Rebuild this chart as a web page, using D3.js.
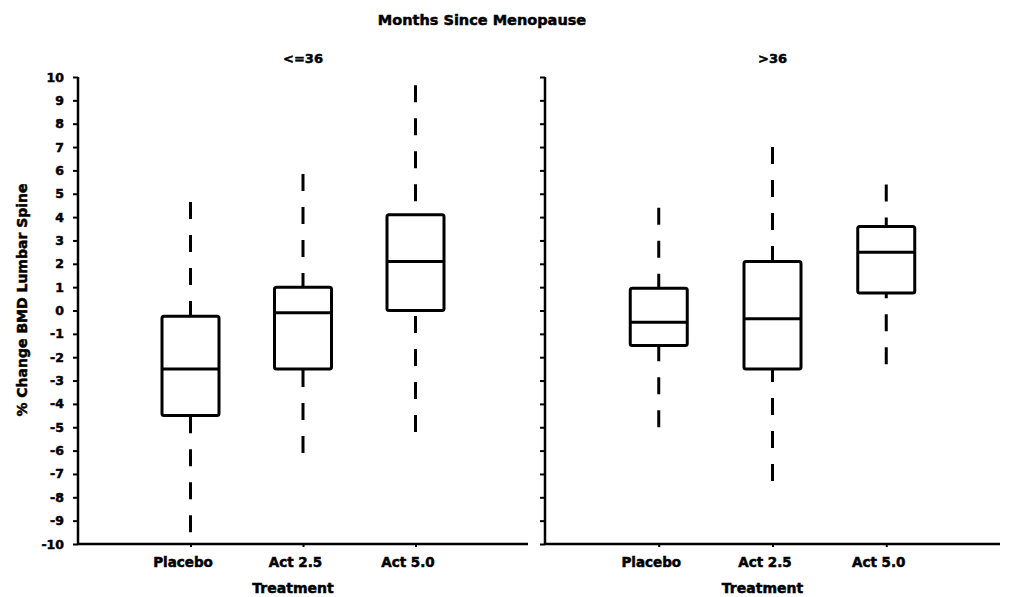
<!DOCTYPE html>
<html>
<head>
<meta charset="utf-8">
<script src="https://cdn.jsdelivr.net/npm/d3@7"></script>
<style>
  body { margin: 0; background: #fff; }
  svg text { font-family: "DejaVu Sans", sans-serif; font-weight: bold; fill: #000; stroke: #000; stroke-width: 0.5px; }
</style>
</head>
<body>
<svg id="chart" width="1017" height="597"></svg>
<script>
// data
let categories = ["Placebo", "Act 2.5", "Act 5.0"];
let panels = ["<=36", ">36"];
let yTicks = d3.range(-10, 11);

// per panel, per category: whisker low, Q1, median, Q3, whisker high
let lowLeft  = [-9.5, -6.1, -5.2];
let q1Left   = [-4.5, -2.5, 0.0];
let medLeft  = [-2.5, -0.1, 2.1];
let q3Left   = [-0.25, 1.0, 4.1];
let highLeft = [4.65, 5.85, 9.65];

let lowRight  = [-5.0, -7.3, -2.3];
let q1Right   = [-1.5, -2.5, 0.75];
let medRight  = [-0.5, -0.35, 2.5];
let q3Right   = [0.95, 2.1, 3.6];
let highRight = [4.4, 7.0, 5.4];

let svg = d3.select("#chart");

let y = d3.scaleLinear().domain([-10, 10]).range([544, 77]);

let panelDefs = [
  {label: panels[0], x0: 78, x1: 528, labels: true,
   low: lowLeft, q1: q1Left, med: medLeft, q3: q3Left, high: highLeft},
  {label: panels[1], x0: 545, x1: 1000, labels: false,
   low: lowRight, q1: q1Right, med: medRight, q3: q3Right, high: highRight}
];

// title
svg.append("text")
  .attr("x", 482).attr("y", 25)
  .attr("text-anchor", "middle")
  .style("font-size", "14.5px")
  .text("Months Since Menopause");

// y axis title
svg.append("text")
  .attr("transform", "translate(27,300) rotate(-90)")
  .attr("text-anchor", "middle")
  .style("font-size", "14px")
  .text("% Change BMD Lumbar Spine");

let boxW = 57;

panelDefs.forEach(function(p) {
  let x = d3.scalePoint().domain(categories).range([p.x0, p.x1]).padding(1);
  let g = svg.append("g");

  // panel label
  g.append("text")
    .attr("x", (p.x0 + p.x1) / 2).attr("y", 63)
    .attr("text-anchor", "middle")
    .style("font-size", "13px")
    .text(p.label);

  // y axis
  let yAxis = d3.axisLeft(y).tickValues(yTicks).tickSize(5).tickPadding(9)
    .tickFormat(d => p.labels ? String(d) : "");
  let ya = g.append("g").attr("transform", "translate(" + p.x0 + ",0)").call(yAxis);
  ya.select(".domain").attr("stroke-width", 2.5).attr("d", "M0," + y(10) + "V" + y(-10));
  ya.selectAll(".tick line").attr("stroke-width", 2);
  ya.selectAll(".tick text").attr("fill", "#000").style("font-size", "12.5px")
    .style("font-family", "DejaVu Sans").style("font-weight", "bold");

  // x axis
  let xAxis = d3.axisBottom(x).tickSize(3).tickPadding(10);
  let xa = g.append("g").attr("transform", "translate(0," + y(-10) + ")").call(xAxis);
  xa.select(".domain").attr("stroke-width", 2.5).attr("d", "M" + p.x0 + ",0H" + p.x1);
  xa.selectAll(".tick line").attr("stroke-width", 2);
  xa.selectAll(".tick text").attr("fill", "#000").attr("dx", -8).style("font-size", "13.5px")
    .style("font-family", "DejaVu Sans").style("font-weight", "bold");

  g.append("text")
    .attr("x", x("Act 2.5") - 10).attr("y", 593)
    .attr("text-anchor", "middle")
    .style("font-size", "14px")
    .text("Treatment");

  let rows = categories.map((c, i) => ({c: c, low: p.low[i], q1: p.q1[i], med: p.med[i], q3: p.q3[i], high: p.high[i]}));

  let box = g.selectAll(".box").data(rows).enter().append("g").attr("class", "box");

  // whiskers, dashed, drawn from the extreme in toward the box
  box.append("line")
    .attr("x1", d => x(d.c)).attr("x2", d => x(d.c))
    .attr("y1", d => y(d.high)).attr("y2", d => y(d.q3))
    .attr("stroke", "#000").attr("stroke-width", 3)
    .attr("stroke-dasharray", "17,16");
  box.append("line")
    .attr("x1", d => x(d.c)).attr("x2", d => x(d.c))
    .attr("y1", d => y(d.low)).attr("y2", d => y(d.q1))
    .attr("stroke", "#000").attr("stroke-width", 3)
    .attr("stroke-dasharray", "17,16");

  box.append("rect")
    .attr("x", d => x(d.c) - boxW / 2).attr("width", boxW)
    .attr("y", d => y(d.q3)).attr("height", d => y(d.q1) - y(d.q3))
    .attr("rx", 2)
    .attr("fill", "#fff").attr("stroke", "#000").attr("stroke-width", 3);

  box.append("line")
    .attr("x1", d => x(d.c) - boxW / 2).attr("x2", d => x(d.c) + boxW / 2)
    .attr("y1", d => y(d.med)).attr("y2", d => y(d.med))
    .attr("stroke", "#000").attr("stroke-width", 3);
});
</script>
</body>
</html>
